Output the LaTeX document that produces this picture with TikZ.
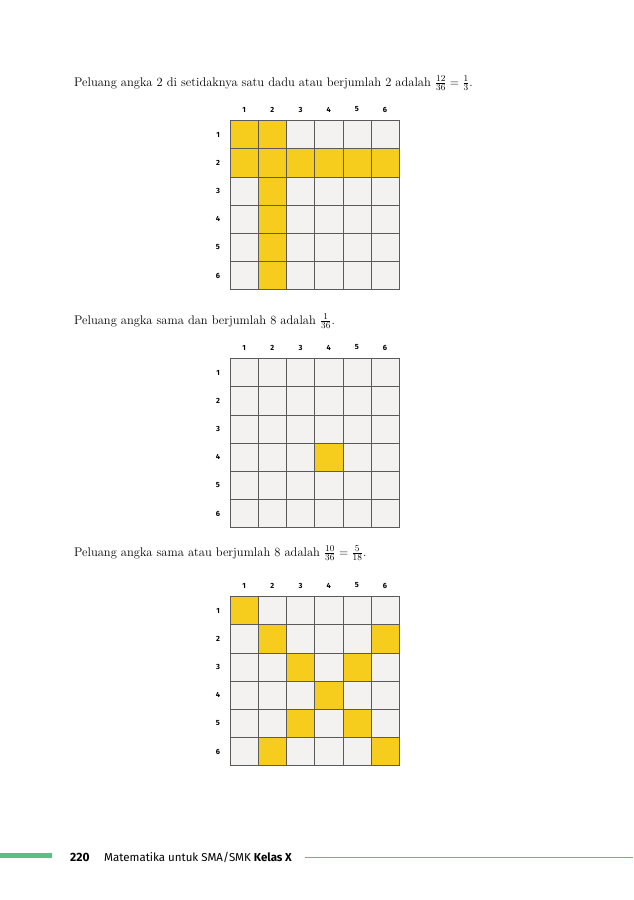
\documentclass[tikz,border=0pt]{standalone}
\usepackage{fontspec}
\setsansfont{Fira Sans}
\definecolor{kuning}{HTML}{F7CD1D}
\definecolor{abu}{HTML}{F3F2F1}
\definecolor{garis}{HTML}{5A5A5A}
\definecolor{hijau}{HTML}{5CBF86}
\begin{document}
\begin{tikzpicture}[x=1pt,y=-1pt,
	cel/.style={fill=abu,draw=garis,line width=0.6pt},
	sel/.style={fill=kuning,draw=garis,line width=0.6pt},
	lbl/.style={font=\sffamily\bfseries\fontsize{7.5}{8}\selectfont},
	teks/.style={anchor=base west,font=\fontsize{12.5}{15}\selectfont,inner sep=0pt}]
	\useasboundingbox (0,0) rectangle (633,900);
	% kalimat
	\node[teks] (t1) at (74,86) {Peluang angka 2 di setidaknya satu dadu atau berjumlah 2 adalah $\frac{12}{36}=\frac{1}{3}$.};
	\node[teks] (t2) at (74,324) {Peluang angka sama dan berjumlah 8 adalah $\frac{1}{36}$.};
	\node[teks] (t3) at (74,556) {Peluang angka sama atau berjumlah 8 adalah $\frac{10}{36}=\frac{5}{18}$.};
	% tiga tabel
	\foreach \top/\hits in {120.5/{1/1,2/1,1/2,2/2,3/2,4/2,5/2,6/2,2/3,2/4,2/5,2/6},
	                        358.5/{4/4},
	                        596.5/{1/1,2/2,6/2,3/3,5/3,4/4,3/5,5/5,2/6,6/6}} {
		\foreach \i in {1,...,6} {
			\node[lbl] at ({230+28.2*(\i-0.5)},\top-11) {\i};
			\node[lbl] at (218,{\top+28.2*(\i-0.5)}) {\i};
			\foreach \j in {1,...,6}
				\draw[cel] ({230+28.2*(\j-1)},{\top+28.2*(\i-1)}) rectangle ++(28.2,28.2);
		}
		\foreach \c/\r in \hits
			\draw[sel] ({230+28.2*(\c-1)},{\top+28.2*(\r-1)}) rectangle ++(28.2,28.2);
	}
	% kaki halaman
	\fill[hijau] (0,852.5) rectangle (52,858);
	\node[anchor=base west,inner sep=0pt,font=\sffamily\bfseries\fontsize{12}{14}\selectfont] (hal) at (70,861) {220};
	\node[anchor=base west,inner sep=0pt,font=\sffamily\fontsize{11.5}{14}\selectfont] (judul) at (104,861) {Matematika untuk SMA/SMK \textbf{Kelas X}};
	\draw[hijau,line width=1.3pt] (305,857.5) -- (633,857.5);
\end{tikzpicture}
\end{document}
